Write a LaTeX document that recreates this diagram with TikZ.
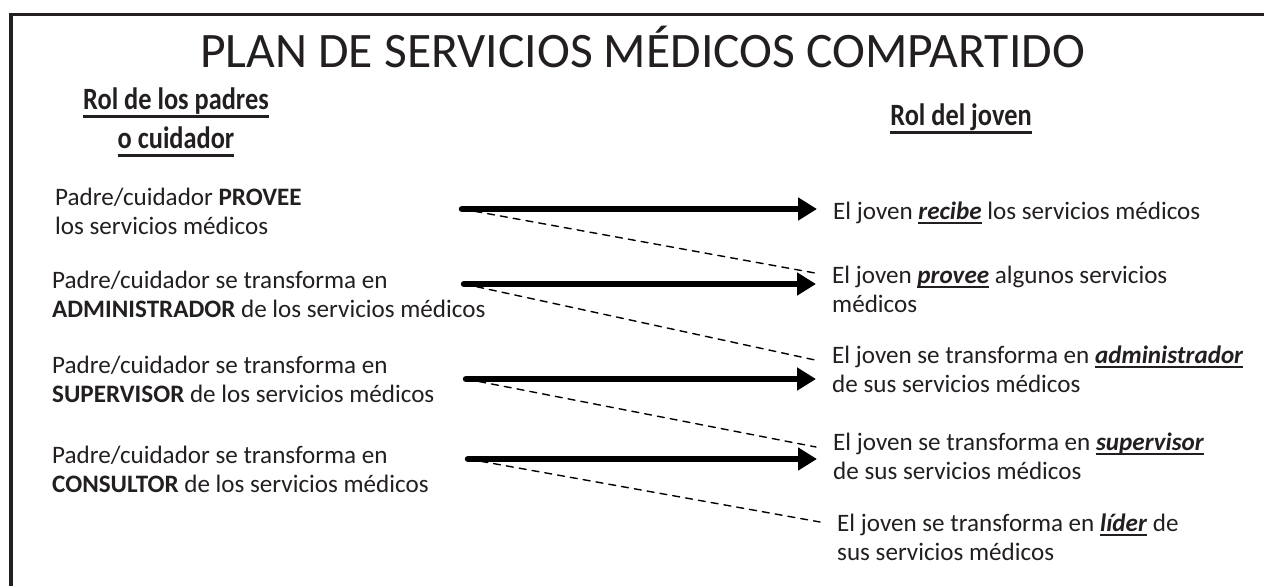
\documentclass[tikz,border=0pt]{standalone}
\usepackage{fontspec}
\setmainfont{Carlito}
\newfontfamily\headfont[FakeStretch=0.85]{Carlito}
\usetikzlibrary{arrows.meta}
\definecolor{ink}{HTML}{231F20}
\newsavebox\ulsave
\newcommand{\ulbox}[3]{\sbox\ulsave{#1}\rlap{\rule[-#2]{\wd\ulsave}{#3}}\usebox\ulsave}
\newcommand{\rolword}[1]{\ulbox{\textbf{\textit{#1}}}{4.5pt}{2pt}}
\newcommand{\rolhead}[1]{\ulbox{#1}{9pt}{3.5pt}}

\begin{document}
\begin{tikzpicture}[line cap=round,line join=round,>={Triangle[length=19pt,width=22pt]},x=1pt,y=-1pt,
	every node/.style={inner sep=0pt,text=ink},
	bodytext/.style={anchor=base west,align=left,font=\fontsize{25.1}{28.8}\selectfont},
	headtext/.style={anchor=base,align=center,font=\headfont\bfseries\fontsize{31}{39}\selectfont},
	bigarrow/.style={->,line width=6.5pt,shorten >=16pt},
	dashlink/.style={line width=1.4pt,dash pattern=on 7pt off 6pt}]
			\useasboundingbox (0,0) rectangle (1264,586);
			\draw [line width=3.5pt,line cap=butt,line join=miter,color=ink] (11,586) -- (11,14.5) -- (1264,14.5);
			\node [anchor=base,font=\fontsize{49.6}{60}\selectfont] (title) at (642.5,67) {PLAN DE SERVICIOS MÉDICOS COMPARTIDO};
			\node [headtext] (hpadres) at (176,148) {\rolhead{Rol de los padres}\\\rolhead{o cuidador}};
			\node [headtext] (hjoven) at (961,125) {\rolhead{Rol del joven}};
			% padre/cuidador (base = last line)
			\node [bodytext] (p1) at (55,234) {Padre/cuidador \textbf{PROVEE}\\los servicios médicos};
			\node [bodytext] (p2) at (52,317) {Padre/cuidador se transforma en\\\textbf{ADMINISTRADOR} de los servicios médicos};
			\node [bodytext] (p3) at (52,402) {Padre/cuidador se transforma en\\\textbf{SUPERVISOR} de los servicios médicos};
			\node [bodytext] (p4) at (52,492) {Padre/cuidador se transforma en\\\textbf{CONSULTOR} de los servicios médicos};
			% joven
			\node [bodytext] (j1) at (833,219) {El joven \rolword{recibe} los servicios médicos};
			\node [bodytext] (j2) at (832,312) {El joven \rolword{provee} algunos servicios\\médicos};
			\node [bodytext] (j3) at (832,392) {El joven se transforma en \rolword{administrador}\\de sus servicios médicos};
			\node [bodytext] (j4) at (833,479) {El joven se transforma en \rolword{supervisor}\\de sus servicios médicos};
			\node [bodytext] (j5) at (837,560) {El joven se transforma en \rolword{líder} de\\sus servicios médicos};
			\coordinate (s1) at (462,209);
			\coordinate (s2) at (464,284);
			\coordinate (s3) at (466,379);
			\coordinate (s4) at (468,459);
			\draw [dashlink] (s1) -- ([xshift=-17pt,yshift=39pt]j2.base west);
			\draw [dashlink] (s2) -- ([xshift=-17pt,yshift=32pt]j3.base west);
			\draw [dashlink] (s3) -- ([xshift=-17pt,yshift=32pt]j4.base west);
			\draw [dashlink] (s4) -- ([xshift=-17pt,yshift=38pt]j5.base west);
			\draw [bigarrow] (s1) -- (s1 -| j1.west);
			\draw [bigarrow] (s2) -- (s2 -| j2.west);
			\draw [bigarrow] (s3) -- (s3 -| j3.west);
			\draw [bigarrow] (s4) -- (s4 -| j4.west);
		\end{tikzpicture}
\end{document}
